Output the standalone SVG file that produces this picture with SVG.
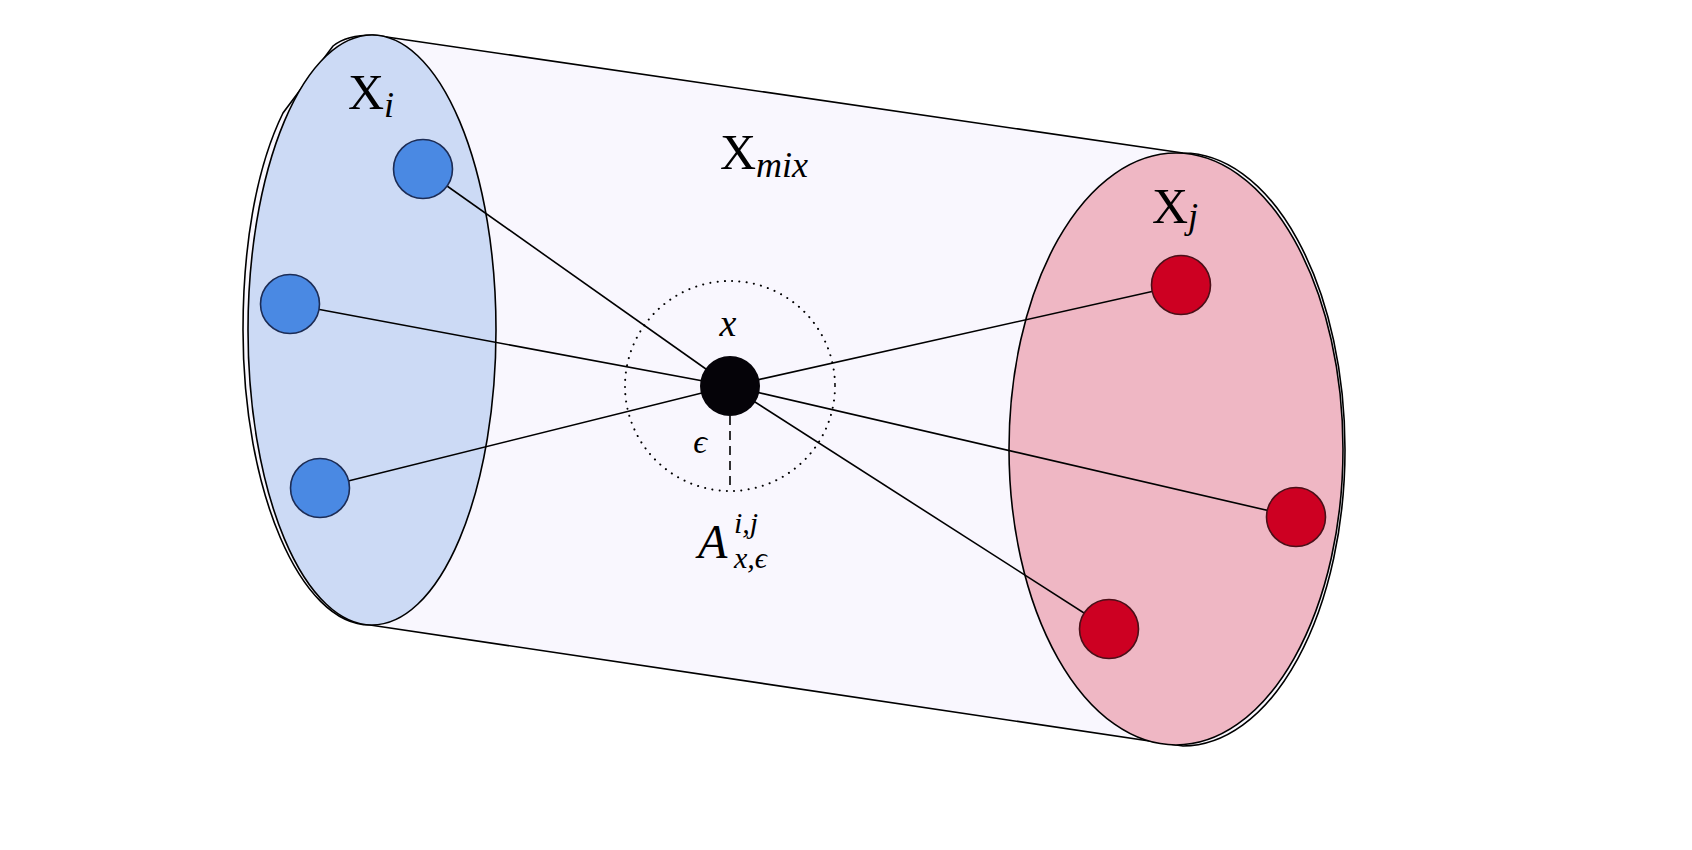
<svg xmlns="http://www.w3.org/2000/svg" width="1692" height="850" viewBox="0 0 1692 850">
<style>
.outline{stroke:#000;stroke-width:1.6;}
.lbl{font-family:"Liberation Serif","DejaVu Serif",serif;fill:#000;}
.it{font-style:italic;}
.blue{fill:#4a89e3;stroke:#1c2c55;stroke-width:1.6;}
.red{fill:#cd0022;stroke:#4a0f18;stroke-width:1.6;}
.edge{stroke:#000;stroke-width:1.6;fill:none;}
</style>
<rect width="1692" height="850" fill="#fff"/>
<g id="cylinder">
<path class="outline" fill="#f9f7fe" d="M373,35 L1183,153 A162,296.5 0 0 1 1183,746 L370,625 C300,625 243,490 243,330 C243,250 255,170 283,113 L333,46 C343,38 358,35 373,35 Z"/>
</g>
<g id="Xi">
<ellipse class="outline" cx="372" cy="330" rx="124" ry="295" fill="#ccdaf5"/>
<text class="lbl" x="348" y="109" font-size="50">X<tspan class="it" font-size="36" dy="8">i</tspan></text>
</g>
<g id="Xj">
<ellipse class="outline" cx="1176" cy="449" rx="167" ry="296" fill="#efb7c4"/>
<text class="lbl" x="1152" y="223" font-size="50">X<tspan class="it" font-size="36" dy="5">j</tspan></text>
</g>
<g id="Xmix">
<text class="lbl" x="720" y="169" font-size="50">X<tspan class="it" font-size="36" dy="8">mix</tspan></text>
</g>
<g id="neighbourhood">
<circle cx="730" cy="386" r="105" fill="none" stroke="#000" stroke-width="2" stroke-dasharray="0.1 7.2" stroke-linecap="round"/>
<line x1="730" y1="416" x2="730" y2="491" stroke="#000" stroke-width="1.6" stroke-dasharray="9 6"/>
<text class="lbl it" x="728" y="336" font-size="38" text-anchor="middle">x</text>
<text class="lbl it" x="700" y="453" font-size="34" text-anchor="middle">ϵ</text>
<text class="lbl it" x="698" y="558" font-size="48">A</text>
<text class="lbl it" x="734" y="533" font-size="30">i,j</text>
<text class="lbl it" x="734" y="568" font-size="30">x,ϵ</text>
</g>
<g id="connectors">
<line class="edge" x1="423" y1="169" x2="730" y2="386"/>
<line class="edge" x1="290" y1="304" x2="730" y2="386"/>
<line class="edge" x1="320" y1="488" x2="730" y2="386"/>
<line class="edge" x1="1181" y1="285" x2="730" y2="386"/>
<line class="edge" x1="1296" y1="517" x2="730" y2="386"/>
<line class="edge" x1="1109" y1="629" x2="730" y2="386"/>
</g>
<g id="x_point"><circle cx="730" cy="386" r="30" fill="#050308"/></g>
<g id="xi1"><circle class="blue" cx="423" cy="169" r="29.5"/></g>
<g id="xi2"><circle class="blue" cx="290" cy="304" r="29.5"/></g>
<g id="xi3"><circle class="blue" cx="320" cy="488" r="29.5"/></g>
<g id="xj1"><circle class="red" cx="1181" cy="285" r="29.5"/></g>
<g id="xj2"><circle class="red" cx="1296" cy="517" r="29.5"/></g>
<g id="xj3"><circle class="red" cx="1109" cy="629" r="29.5"/></g>
</svg>
